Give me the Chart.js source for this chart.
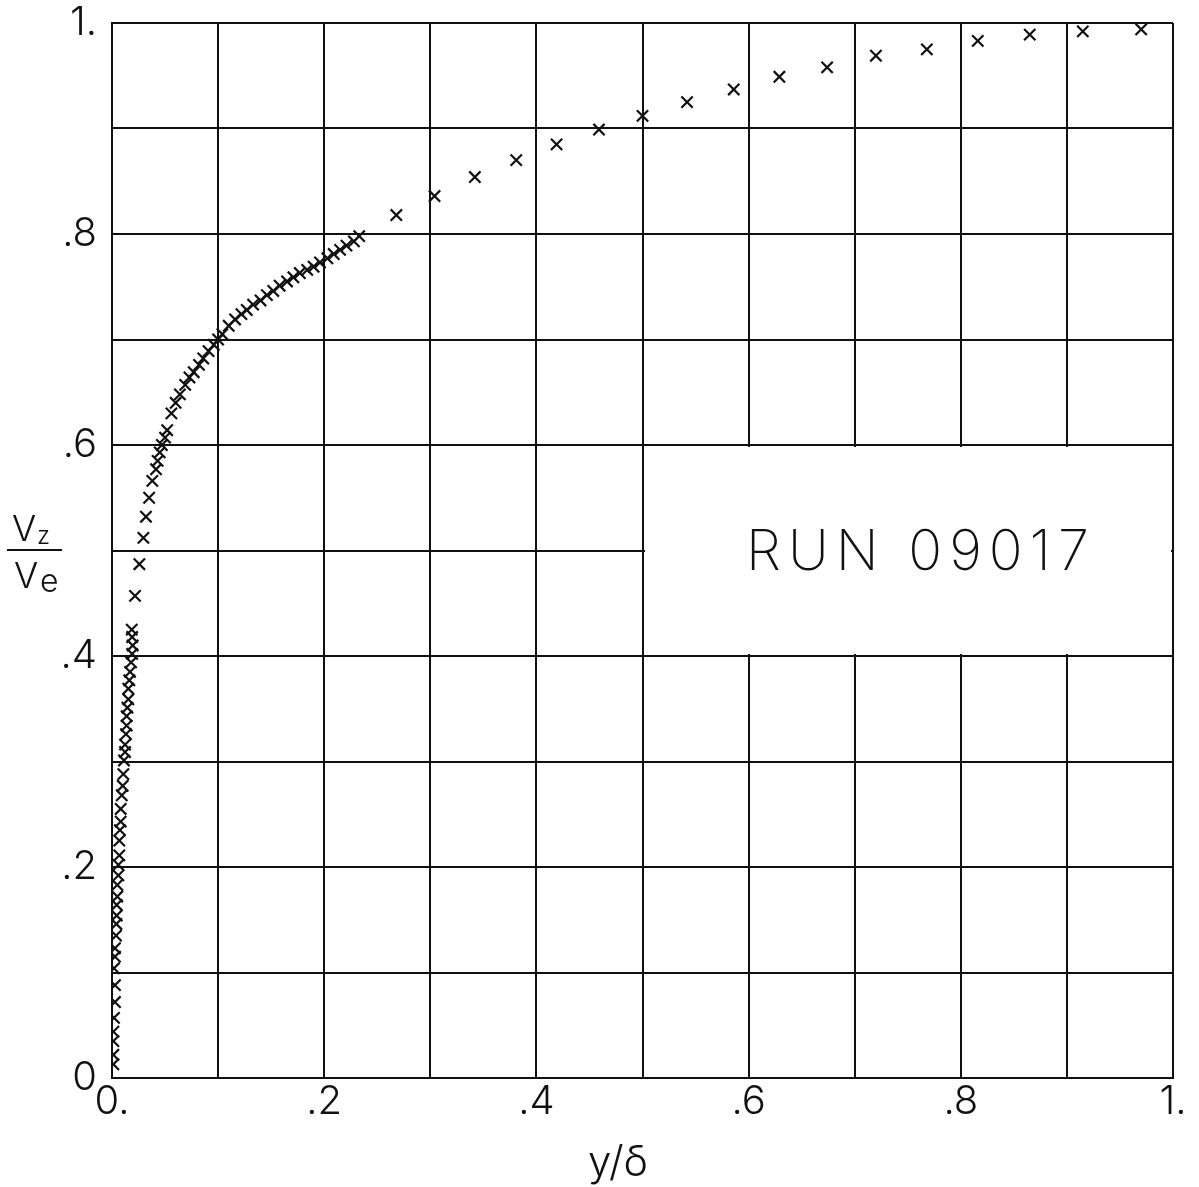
<!DOCTYPE html>
<html>
<head>
<meta charset="utf-8">
<title>RUN 09017</title>
<script src="https://cdn.jsdelivr.net/npm/chart.js@4/dist/chart.umd.min.js"></script>
<style>
  html, body { margin: 0; padding: 0; background: #fff; }
  canvas { display: block; }
</style>
</head>
<body>
<canvas id="profileChart" width="1199" height="1187"></canvas>
<script>
// boundary layer velocity profile, y/delta against Vz/Ve
const yDelta = [
  0.0013, 0.0013, 0.0013, 0.0013, 0.0019, 0.0028, 0.0028, 0.0019, 0.0028, 0.0028,
  0.0038, 0.0041, 0.0044, 0.0044, 0.0050, 0.0050, 0.0060, 0.0060, 0.0069, 0.0069,
  0.0075, 0.0082, 0.0082, 0.0092, 0.0101, 0.0107, 0.0113, 0.0123, 0.0123, 0.0132,
  0.0138, 0.0138, 0.0145, 0.0154, 0.0154, 0.0163, 0.0170, 0.0180, 0.0190, 0.0195,
  0.0190, 0.0186, 0.0217, 0.0258, 0.0296, 0.032, 0.035, 0.038, 0.0415, 0.043,
  0.045, 0.047, 0.050, 0.052, 0.056, 0.060, 0.064, 0.069, 0.073, 0.077,
  0.082, 0.086, 0.091, 0.096, 0.100, 0.104, 0.110, 0.116, 0.122, 0.127,
  0.133, 0.140, 0.146, 0.152, 0.158, 0.165, 0.171, 0.177, 0.184, 0.190,
  0.196, 0.203, 0.209, 0.215, 0.221, 0.228, 0.233,
  0.268, 0.304, 0.342, 0.381, 0.419, 0.459, 0.500, 0.542, 0.586, 0.629,
  0.674, 0.720, 0.768, 0.816, 0.865, 0.915, 0.970
];
const velRatio = [
  0.013, 0.022, 0.035, 0.044, 0.057, 0.072, 0.088, 0.104, 0.115, 0.123,
  0.135, 0.146, 0.154, 0.164, 0.172, 0.183, 0.192, 0.202, 0.211, 0.225,
  0.235, 0.243, 0.255, 0.268, 0.277, 0.288, 0.301, 0.309, 0.316, 0.326,
  0.334, 0.343, 0.351, 0.359, 0.369, 0.377, 0.385, 0.394, 0.402, 0.410,
  0.418, 0.425, 0.457, 0.487, 0.512, 0.532, 0.550, 0.566, 0.577, 0.585,
  0.593, 0.600, 0.607, 0.614, 0.630, 0.640, 0.648, 0.657, 0.664, 0.669,
  0.676, 0.682, 0.689, 0.695, 0.700, 0.705, 0.713, 0.719, 0.724, 0.728,
  0.733, 0.737, 0.742, 0.746, 0.751, 0.755, 0.759, 0.763, 0.766, 0.769,
  0.773, 0.777, 0.781, 0.785, 0.789, 0.793, 0.798,
  0.818, 0.836, 0.854, 0.870, 0.885, 0.899, 0.912, 0.925, 0.937, 0.949,
  0.958, 0.969, 0.975, 0.983, 0.989, 0.992, 0.994
];
// labels only on every other grid line
const xTickLabels = ['0.', '', '.2', '', '.4', '', '.6', '', '.8', '', '1.'];
const yTickLabels = ['0', '', '.2', '', '.4', '', '.6', '', '.8', '', '1.'];
const runLabel = 'RUN 09017';

const ink = '#111';
const plotFont = "'Inter', 'Lato', 'DejaVu Sans', sans-serif";

const points = yDelta.map((x, i) => ({ x: x, y: velRatio[i] }));

// the run number sits in a cleared cell block, x .5-1, y .4-.6
const labelBox = {
  id: 'labelBox',
  beforeDatasetsDraw(chart) {
    const { x, y } = chart.scales;
    const left = Math.round(x.getPixelForValue(0.5)) + 2;
    const right = Math.round(x.getPixelForValue(1)) - 2;
    const top = Math.round(y.getPixelForValue(0.6)) + 2;
    const bottom = Math.round(y.getPixelForValue(0.4)) - 2;
    const c = chart.ctx;
    c.save();
    c.fillStyle = '#fff';
    c.fillRect(left, top, right - left, bottom - top);
    c.restore();
  }
};

// titles and run number, drawn after the grid
const annotations = {
  id: 'annotations',
  afterDraw(chart) {
    const c = chart.ctx;
    c.save();
    c.fillStyle = ink;
    c.strokeStyle = ink;
    c.textBaseline = 'alphabetic';

    // Vz / Ve fraction on the left
    c.font = '300 36px ' + plotFont;
    c.fillText('V', 12, 541);
    c.fillText('V', 14, 588);
    c.font = '300 24px ' + plotFont;
    c.fillText('z', 37, 544);
    c.font = '300 32px ' + plotFont;
    c.fillText('e', 40, 592);
    c.lineWidth = 2;
    c.beginPath();
    c.moveTo(7, 550);
    c.lineTo(62, 550);
    c.stroke();

    // x axis title
    c.font = '300 42px ' + plotFont;
    c.fillText('y/δ', 588, 1176);

    // run number
    c.font = '200 56px ' + plotFont;
    c.letterSpacing = '7px';
    c.fillText(runLabel, 746, 570);
    c.restore();
  }
};

const ctx = document.getElementById('profileChart').getContext('2d');
const profileChart = new Chart(ctx, {
  type: 'scatter',
  data: {
    datasets: [{
      data: points,
      pointStyle: 'crossRot',
      pointRadius: 8,
      pointBorderWidth: 2.2,
      borderColor: ink,
      backgroundColor: ink
    }]
  },
  options: {
    responsive: false,
    animation: false,
    layout: { padding: { top: 23, right: 26, left: 0, bottom: 0 } },
    plugins: {
      legend: { display: false },
      tooltip: { enabled: false }
    },
    scales: {
      x: {
        type: 'linear',
        min: 0,
        max: 1,
        afterFit: (scale) => { scale.height = 109; },
        grid: { color: ink, lineWidth: 2, drawTicks: false },
        border: { color: ink, width: 2 },
        ticks: {
          stepSize: 0.1,
          autoSkip: false,
          maxRotation: 0,
          padding: 4,
          color: ink,
          font: { family: plotFont, size: 40, weight: '300', lineHeight: 1 },
          callback: (v) => xTickLabels[Math.round(v * 10)]
        }
      },
      y: {
        type: 'linear',
        min: 0,
        max: 1,
        afterFit: (scale) => { scale.width = 112; },
        grid: { color: ink, lineWidth: 2, drawTicks: false },
        border: { color: ink, width: 2 },
        ticks: {
          stepSize: 0.1,
          autoSkip: false,
          padding: 15,
          color: ink,
          // small line height keeps the top label from pushing the plot down
          font: { family: plotFont, size: 40, weight: '300', lineHeight: 0.3 },
          callback: (v) => yTickLabels[Math.round(v * 10)]
        }
      }
    }
  },
  plugins: [labelBox, annotations]
});
</script>
</body>
</html>
